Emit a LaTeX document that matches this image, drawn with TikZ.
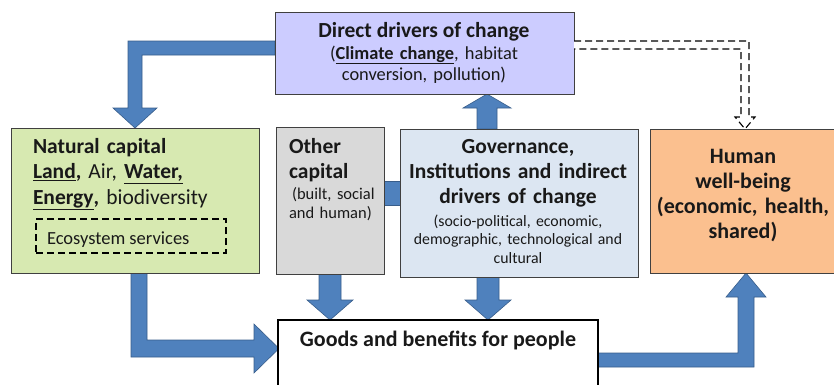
\documentclass[tikz,border=0pt]{standalone}
\usepackage{fontspec}
\setmainfont{Carlito}
\usetikzlibrary{backgrounds}
\definecolor{ddfill}{HTML}{CCCCFF}
\definecolor{ncfill}{HTML}{D7E9B1}
\definecolor{ocfill}{HTML}{D9D9D9}
\definecolor{govfill}{HTML}{DCE6F2}
\definecolor{hwfill}{HTML}{FBC08F}
\definecolor{arrfill}{HTML}{4F81BD}
\definecolor{arrdraw}{HTML}{385D8A}
\definecolor{boxdraw}{HTML}{404040}
\begin{document}
\begin{tikzpicture}[x=1pt,y=-1pt,
  box/.style={draw=boxdraw, line width=0.8pt, inner sep=0pt, outer sep=0pt, anchor=north west},
  barrow/.style={fill=arrfill, draw=arrdraw, line width=0.6pt, line join=miter},
  txt/.style={inner sep=0pt, outer sep=0pt, text=black!90}]
\useasboundingbox (0,0) rectangle (834,384);

% boxes
\node[box, fill=ddfill, minimum width=299pt, minimum height=82pt] (dd) at (275,12) {};
\node[box, fill=ncfill, minimum width=248pt, minimum height=145pt] (nc) at (11,128) {};
\node[box, fill=ocfill, minimum width=108pt, minimum height=147pt] (oc) at (276,127) {};
\node[box, fill=govfill, minimum width=238pt, minimum height=148pt] (gov) at (400,129) {};
\node[box, fill=hwfill, minimum width=190pt, minimum height=144pt] (hw) at (650,129) {};
\node[box, draw=black, line width=1.2pt, fill=white, minimum width=320pt, minimum height=80pt] (goods) at (278,320) {};
\node[box, draw=black, line width=1.1pt, dash pattern=on 7pt off 4pt, minimum width=190pt, minimum height=34pt] (es) at (36,219) {};

% block arrows
\begin{scope}[on background layer]
\draw[barrow] (275,41) -- (128,41) -- (128,108) -- (113,108) -- (135,128) -- (157,108) -- (142,108) -- (142,55) -- (275,55) -- cycle;
\draw[barrow] (477,129) -- (477,108) -- (463,108) -- (487,94) -- (511,108) -- (497,108) -- (497,129) -- cycle;
\draw[barrow] (384,181) rectangle (400,205);
\draw[barrow] (319,274) -- (319,300) -- (307,300) -- (330,320) -- (353,300) -- (341,300) -- (341,274) -- cycle;
\draw[barrow] (477,277) -- (477,300) -- (465,300) -- (488,320) -- (511,300) -- (499,300) -- (499,277) -- cycle;
\draw[barrow] (131,273) -- (131,357) -- (254,357) -- (254,373) -- (279,348.5) -- (254,324) -- (254,340) -- (147,340) -- (147,273) -- cycle;
\draw[barrow] (598,353) -- (738,353) -- (738,297) -- (726,297) -- (746,273) -- (766,297) -- (754,297) -- (754,367) -- (598,367) -- cycle;
\end{scope}

% dashed hollow arrow
\draw[black, line width=1.1pt, dash pattern=on 7pt off 4pt, fill=white]
  (574,41) -- (749,41) -- (749,117) -- (755,117) -- (745,129) -- (735,117) -- (741,117) -- (741,49) -- (574,49);

% texts
\node[txt, font=\fontsize{21.5}{21.5}\selectfont\bfseries, anchor=base] (ddt) at (424,37)
  {Direct drivers of change};
\node[txt, text width=295pt, align=center, anchor=base, font=\fontsize{18.4}{21.5}\selectfont] (dds) at (424,59)
  {(\textbf{\underline{Climate change}}, habitat\\ conversion, pollution)};

\node[txt, text width=235pt, align=left, anchor=base west, font=\fontsize{21.5}{25.5}\selectfont] (nct) at (33,153)
  {\textbf{Natural capital}\\
   \textbf{\underline{Land},} Air, \textbf{\underline{Water,}}\\
   \textbf{\underline{Energy},} biodiversity};

\node[txt, anchor=base west, font=\fontsize{18.5}{20}\selectfont] (est) at (47,244)
  {Ecosystem services};

\node[txt, text width=100pt, align=left, anchor=base west, font=\fontsize{21.5}{25}\selectfont\bfseries] (oct) at (289,153)
  {Other\\ capital};
\node[txt, text width=100pt, align=left, anchor=base west, font=\fontsize{16.5}{19}\selectfont] (ocs) at (289,199)
  {\hspace*{3pt}(built, social\\ and human)};

\node[txt, text width=236pt, align=center, anchor=base, font=\fontsize{21.5}{25}\selectfont\bfseries] (govt) at (518,153)
  {Governance,\\ Institutions and indirect\\ drivers of change};
\node[txt, text width=236pt, align=center, anchor=base, font=\fontsize{15.8}{18.5}\selectfont] (govs) at (518,226)
  {(socio-political, economic,\\ demographic, technological and\\ cultural};

\node[txt, text width=182pt, align=center, anchor=base, font=\fontsize{22}{25}\selectfont\bfseries] (hwt) at (743,163)
  {Human\\ well-being\\ (economic, health,\\ shared)};

\node[txt, anchor=base, font=\fontsize{22}{22}\selectfont\bfseries] (goodst) at (438,346)
  {Goods and benefits for people};
\end{tikzpicture}
\end{document}
